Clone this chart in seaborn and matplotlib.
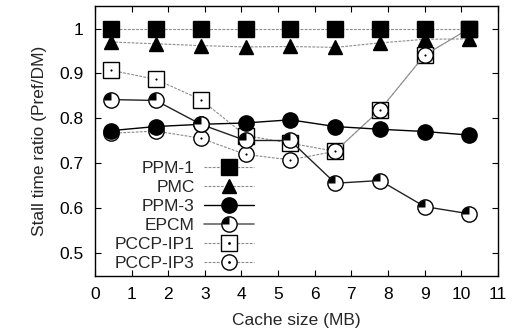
import numpy as np
import pandas as pd
import matplotlib
matplotlib.use("Agg")
import matplotlib.pyplot as plt
from matplotlib.path import Path
from matplotlib.lines import Line2D
from matplotlib.legend_handler import HandlerTuple
import seaborn as sns

cache_mb = [0.44, 1.66, 2.89, 4.11, 5.33, 6.56, 7.78, 9.0, 10.22]
ppm1 = [1.0, 1.0, 1.0, 1.0, 1.0, 1.0, 1.0, 1.0, 1.0]
pmc = [0.970, 0.966, 0.962, 0.959, 0.960, 0.958, 0.968, 0.976, 0.977]
ppm3 = [0.773, 0.782, 0.787, 0.790, 0.797, 0.782, 0.776, 0.771, 0.763]
epcm = [0.842, 0.840, 0.787, 0.751, 0.751, 0.656, 0.662, 0.604, 0.588]
pccp_ip1 = [0.907, 0.887, 0.842, 0.762, 0.745, 0.727, 0.819, 0.941, 1.0]
pccp_ip3 = [0.767, 0.772, 0.756, 0.720, 0.708, 0.727, 0.819, 0.941, 1.0]
xticks = list(range(0, 12))
yticks = [0.5, 0.6, 0.7, 0.8, 0.9, 1.0]
ytick_labels = ["0.5", "0.6", "0.7", "0.8", "0.9", "1"]

FS = 12.5
sns.set_theme(style="ticks")
plt.rcParams['font.family'] = ['Liberation Sans', 'DejaVu Sans']
plt.rcParams['font.size'] = FS

fig = plt.figure(figsize=(5.16, 3.34), dpi=100)
ax = fig.add_axes([0.184, 0.174, 0.781, 0.808])

dash = (0, (2.5, 1.2))
gray = "#8c8c8c"

# quarter wedge marker (top-left quadrant) as polygon, radius 1
ang = np.linspace(np.pi / 2, np.pi, 30)
wv = np.vstack([[0, 0], np.column_stack([np.cos(ang), np.sin(ang)]), [0, 0]])
codes = [Path.MOVETO] + [Path.LINETO] * (len(wv) - 2) + [Path.CLOSEPOLY]
quarter = Path(wv, codes)


def draw(y, ls, lc, lw, marker, mfc, size, z):
    sns.lineplot(x=cache_mb, y=y, ax=ax, color=lc, linestyle=ls, linewidth=lw,
                 marker=marker, markersize=size, markerfacecolor=mfc,
                 markeredgecolor="black", markeredgewidth=1.0, zorder=z,
                 legend=False)


def dots(y, z):
    sns.lineplot(x=cache_mb, y=y, ax=ax, color="black", linestyle="none",
                 marker=".", markersize=2, markeredgewidth=0.5,
                 markeredgecolor="black", zorder=z, legend=False)


draw(pccp_ip1, dash, gray, 0.8, "s", "white", 11, 3)
dots(pccp_ip1, 3.1)
draw(pccp_ip3, dash, gray, 0.8, "o", "white", 11, 3.2)
dots(pccp_ip3, 3.3)
draw(ppm3, "-", "black", 1.0, "o", "black", 11, 4)
draw(epcm, "-", "#222222", 1.0, "o", "white", 11, 4.5)
sns.lineplot(x=cache_mb, y=epcm, ax=ax, color="black", linestyle="none",
             marker=quarter, markersize=10.5, markeredgewidth=0,
             markerfacecolor="black", markeredgecolor="black", zorder=4.6,
             legend=False)
draw(pmc, dash, gray, 0.8, "^", "black", 10, 5)
draw(ppm1, dash, gray, 0.8, "s", "black", 12, 6)

ax.set_xlim(0, 11)
ax.set_ylim(0.45, 1.05)
ax.set_xticks(xticks)
ax.set_yticks(yticks)
ax.set_yticklabels(ytick_labels)
ax.set_xlabel("Cache size (MB)", fontsize=FS, labelpad=8)
ax.set_ylabel("Stall time ratio (Pref/DM)", fontsize=FS, labelpad=9)
ax.tick_params(direction="in", top=True, right=True, length=4, width=0.8,
               labelsize=FS, colors="black", pad=8)
for s in ax.spines.values():
    s.set_color("black")
    s.set_linewidth(1.0)


def h(ls, lc, lw, marker, mfc, size):
    return Line2D([], [], color=lc, linestyle=ls, linewidth=lw, marker=marker,
                  markersize=size, markerfacecolor=mfc, markeredgecolor="black",
                  markeredgewidth=1.0)


dot_h = Line2D([], [], linestyle="none", marker=".", markersize=2, color="black")
h_ip1 = (h(dash, gray, 0.8, "s", "white", 11), dot_h)
h_ip3 = (h(dash, gray, 0.8, "o", "white", 11), dot_h)
h_epcm = (h("-", "#666666", 1.2, "o", "white", 11),
          Line2D([], [], linestyle="none", marker=quarter, markersize=10.5,
                 markeredgewidth=0, markerfacecolor="black"))
handles = [h(dash, gray, 0.8, "s", "black", 12), h(dash, gray, 0.8, "^", "black", 10),
           h("-", "black", 1.0, "o", "black", 11), h_epcm, h_ip1, h_ip3]
labels = ["PPM-1", "PMC", "PPM-3", "EPCM", "PCCP-IP1", "PCCP-IP3"]
leg = ax.legend(handles, labels, handler_map={tuple: HandlerTuple(ndivide=1, pad=0)},
                loc="center", bbox_to_anchor=(0.222, 0.222), frameon=False,
                markerfirst=False, handlelength=2.9, handletextpad=0.5,
                labelspacing=0.22, fontsize=FS, borderpad=0.2)

fig.savefig("out.png", dpi=100)
